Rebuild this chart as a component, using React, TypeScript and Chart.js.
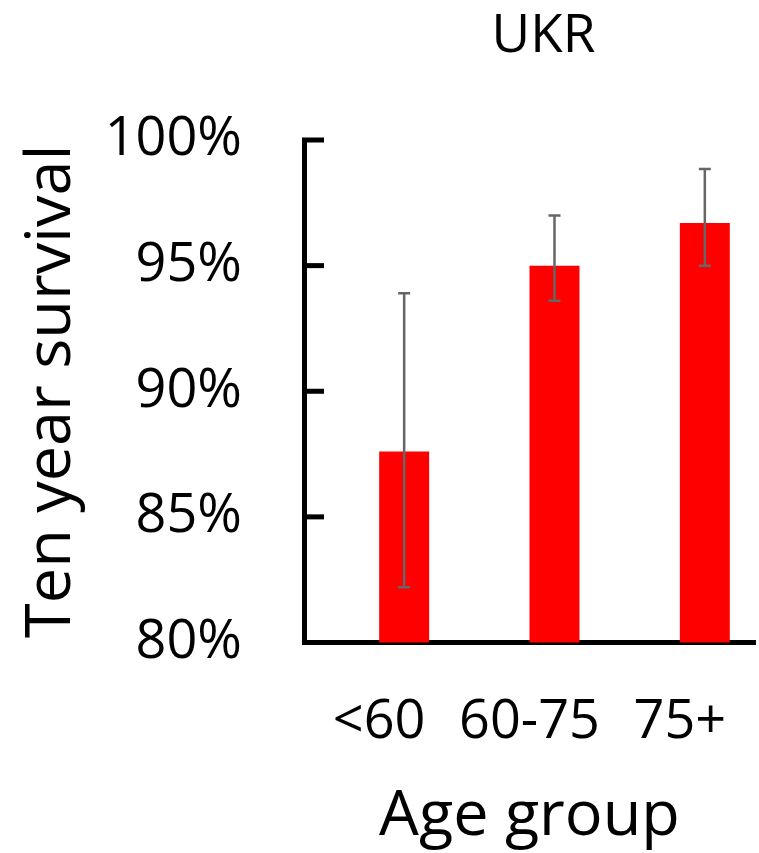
import React, { useEffect, useRef } from "react";
import { Chart, registerables } from "chart.js";

Chart.register(...registerables);

const categories = ["<60", "60-75", "75+"];
const survival = [87.6, 95.0, 96.7];
const errorLow = [82.2, 93.6, 95.0];
const errorHigh = [93.9, 97.0, 98.85];
const yTicks = [80, 85, 90, 95, 100];
const chartTitle = "UKR";
const xTitle = "Age group";
const yTitle = "Ten year survival";

const FONT = "'Open Sans', sans-serif";
const W = 759;
const H = 853;

const errorBarPlugin = {
  id: "errorBars",
  afterDatasetsDraw(chart: any) {
    const meta = chart.getDatasetMeta(1);
    const y = chart.scales.y;
    const ctx = chart.ctx;
    ctx.save();
    ctx.strokeStyle = "#666666";
    ctx.lineWidth = 2.5;
    meta.data.forEach((bar: any, i: number) => {
      const x = bar.x;
      const yl = y.getPixelForValue(errorLow[i]);
      const yh = y.getPixelForValue(errorHigh[i]);
      ctx.beginPath();
      ctx.moveTo(x, yl);
      ctx.lineTo(x, yh);
      ctx.moveTo(x - 6, yl);
      ctx.lineTo(x + 6, yl);
      ctx.moveTo(x - 6, yh);
      ctx.lineTo(x + 6, yh);
      ctx.stroke();
    });
    ctx.restore();
  },
};

const innerTicksPlugin = {
  id: "innerTicks",
  afterDraw(chart: any) {
    const y = chart.scales.y;
    const ctx = chart.ctx;
    const left = chart.chartArea.left;
    ctx.save();
    ctx.fillStyle = "#000000";
    y.ticks.forEach((t: any) => {
      const py = y.getPixelForValue(t.value);
      ctx.fillRect(left - 2, py - 2.5, 22, 5);
    });
    ctx.restore();
  },
};

const titlePlugin = {
  id: "ukrTitle",
  afterDraw(chart: any) {
    const ctx = chart.ctx;
    const area = chart.chartArea;
    ctx.save();
    ctx.font = `53px ${FONT}`;
    ctx.fillStyle = "#000000";
    ctx.textAlign = "center";
    ctx.textBaseline = "alphabetic";
    ctx.fillText(chartTitle, (area.left + area.right) / 2 + 14, 52);
    ctx.restore();
  },
};

export default function App() {
  const ref = useRef<HTMLCanvasElement | null>(null);

  useEffect(() => {
    document.body.style.margin = "0";
    if (!ref.current) return;
    const chart = new Chart(ref.current, {
      type: "bar",
      data: {
        labels: categories,
        datasets: [
          {
            label: "spacer",
            data: categories.map(() => null),
            backgroundColor: "rgba(0,0,0,0)",
          },
          {
            label: "Ten year survival",
            data: survival,
            backgroundColor: "#ff0000",
            borderWidth: 0,
          },
        ],
      },
      options: {
        responsive: false,
        animation: false,
        devicePixelRatio: 1,
        layout: { padding: { top: 140, left: 0, right: 4, bottom: 0 } },
        datasets: {
          bar: { categoryPercentage: 0.665, barPercentage: 1 },
        },
        plugins: {
          legend: { display: false },
          tooltip: { enabled: false },
          title: { display: false },
        },
        scales: {
          x: {
            type: "category",
            offset: true,
            grid: { display: false, drawTicks: false },
            border: { display: true, width: 5, color: "#000000" },
            ticks: {
              color: "#000000",
              font: { family: FONT, size: 54 },
              padding: 48,
              maxRotation: 0,
            },
            title: {
              display: true,
              text: xTitle,
              color: "#000000",
              font: { family: FONT, size: 63 },
              padding: { top: 0, bottom: -2 },
            },
            afterFit(scale: any) {
              scale.height = 210.5;
              scale.paddingLeft = 0;
              scale.paddingRight = 0;
            },
          },
          y: {
            min: 80,
            max: 100,
            grid: { display: false, drawTicks: false },
            border: { display: true, width: 5, color: "#000000" },
            afterBuildTicks(scale: any) {
              scale.ticks = yTicks.map((v) => ({ value: v }));
            },
            ticks: {
              color: "#000000",
              font: { family: FONT, size: 54 },
              padding: 62,
              callback: (v: any) => `${v}%`,
            },
            title: {
              display: true,
              text: yTitle,
              color: "#000000",
              font: { family: FONT, size: 63 },
              padding: { top: 14, bottom: 0 },
            },
            afterFit(scale: any) {
              scale.width = 304;
            },
          },
        },
      },
      plugins: [errorBarPlugin, innerTicksPlugin, titlePlugin],
    } as any);
    return () => chart.destroy();
  }, []);

  return <canvas ref={ref} width={W} height={H} style={{ display: "block" }} />;
}
